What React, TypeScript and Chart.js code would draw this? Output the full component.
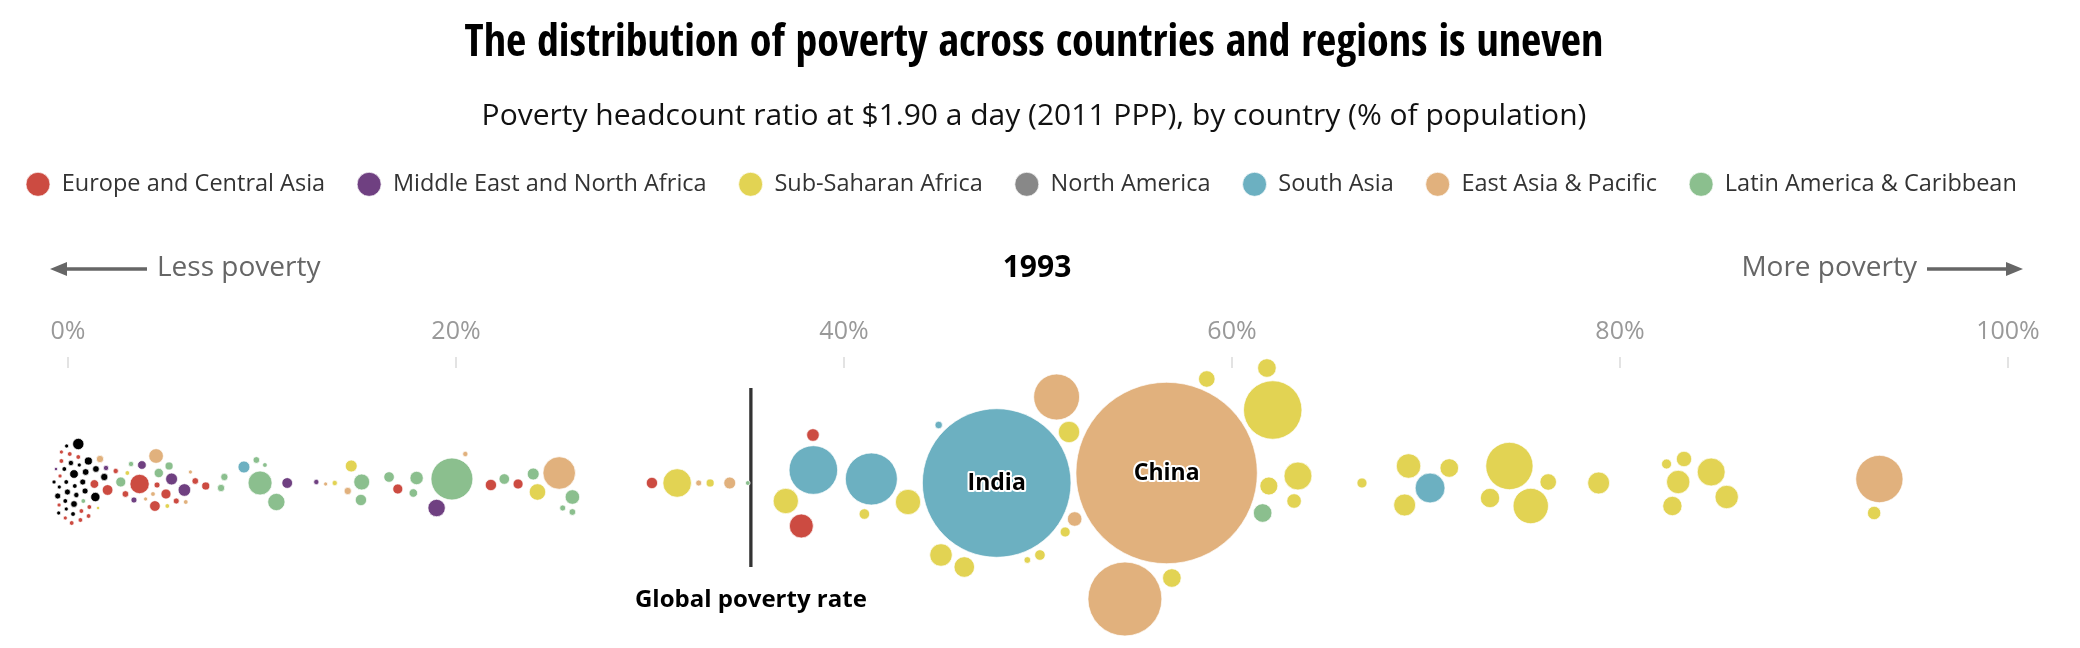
import React, { useEffect, useRef } from 'react';
import Chart from 'chart.js/auto';

// each bubble: [poverty headcount %, swarm offset, population (millions), label]
type Bubble = [number, number, number, string?];

const year = '1993';
const globalRate = 35.2;
const tickValues = [0, 20, 40, 60, 80, 100];

const europeCentralAsia: Bubble[] = [
  [-0.34, 31, 0.6], [0.09, 29, 0.8], [0.53, 26, 0.8], [-0.34, 22, 0.8], [-0.41, 7, 0.6],
  [1.36, -1, 2.7], [2.04, -7, 4.1], [-0.46, -22, 0.6], [0.69, -28, 0.8], [1.1, -24, 0.8],
  [0.64, -37, 0.8], [1.06, -33, 0.8], [-0.14, -35, 0.6], [0.19, -40, 0.8], [2.46, 12, 1.0],
  [2.96, -11, 1.6], [3.69, -1, 13.4], [4.59, -2, 1.3], [5.05, -11, 3.6], [4.48, -23, 4.1],
  [5.58, -18, 1.3], [6.56, 2, 1.6], [7.1, -3, 2.3], [17.0, -6, 3.6], [21.8, -2, 4.6],
  [23.2, -1, 3.6], [30.1, 0, 4.6], [38.4, 48, 5.7], [37.8, -43, 20.6],
];

const middleEastNorthAfrica: Bubble[] = [
  [-0.62, 14, 0.4], [1.96, 15, 1.0], [3.81, 18, 2.7], [5.34, 4, 5.1], [6.0, -7, 5.7],
  [3.4, -17, 1.3], [11.3, 0, 4.1], [12.8, 1, 1.0], [19.0, -25, 10.8],
];

const subSaharanAfrica: Bubble[] = [
  [3.06, 10, 0.8], [1.55, -25, 0.4], [5.12, -23, 0.8], [13.75, 0, 1.0], [14.6, 17, 5.1],
  [24.2, -9, 9.8], [31.4, 0, 29.3], [33.1, 0, 2.3], [37.0, -18, 23], [41.05, -31, 4.0],
  [43.3, -19, 23], [45.0, -72, 18.2], [46.2, -84, 15.2], [49.45, -77, 1.6], [50.1, -72, 4.0],
  [51.4, -49, 3.6], [51.6, 51, 16.4], [58.7, 104, 9.8], [61.8, 115, 12.4], [62.1, 73, 122.6],
  [63.4, 7, 28], [61.9, -3, 11.6], [63.2, -18, 7.6], [66.7, 0, 3.6], [56.9, -95, 12.4],
  [69.1, 17, 21.6], [68.9, -22, 17.3], [71.2, 15, 12.4], [74.3, 17, 80.2], [73.3, -15, 13.4],
  [75.4, -23, 44.8], [76.3, 1, 9.8], [78.9, 0, 17.3], [82.4, 19, 3.6], [83.3, 24, 8.5],
  [83.0, 1, 19.6], [82.7, -23, 13.4], [84.7, 11, 28], [85.5, -14, 19.6], [93.1, -30, 6.4],
];

const northAmerica: Bubble[] = [];

const southAsia: Bubble[] = [
  [9.07, 16, 5.1], [38.42, 13, 84.7], [41.41, 4, 97], [44.88, 58, 2.0],
  [47.87, 0, 792, 'India'], [70.21, -5, 32],
];

const eastAsiaPacific: Bubble[] = [
  [1.65, 24, 1.9], [4.54, 27, 7.7], [4.38, -11, 0.8], [4.0, -16, 0.6], [6.31, 11, 0.6],
  [6.07, -19, 0.8], [13.28, -1, 0.6], [14.42, -8, 1.9], [20.48, 29, 1.0], [25.32, 10, 38],
  [32.51, 0, 1.3], [34.11, 0, 5.1], [51.89, -36, 7.6], [50.96, 86, 75.6],
  [56.63, 10, 1180, 'China'], [54.48, -116, 196], [93.37, 4, 80.2],
];

const latinAmericaCaribbean: Bubble[] = [
  [0.79, -18, 0.8], [3.25, 19, 1.0], [5.21, 17, 2.3], [4.68, 10, 3.1], [2.72, 1, 3.6],
  [8.06, 6, 1.9], [7.89, -5, 1.9], [9.71, 23, 1.6], [10.15, 18, 0.8], [9.9, 0, 20.6],
  [10.74, -19, 10.7], [15.14, 1, 9.1], [15.1, -17, 4.6], [16.55, 6, 4.0], [17.97, 5, 6.4],
  [17.8, -10, 2.6], [19.79, 4, 63], [22.49, 4, 4.0], [23.98, 9, 5.1], [26.0, -14, 7.6],
  [25.5, -25, 1.3], [26.0, -29, 1.6], [35.04, 0, 0.8], [61.58, -30, 12.4],
];

// high income economies, not part of any region in the legend
const otherHighIncome: Bubble[] = [
  [0.53, 39, 4.6], [-0.07, 37, 0.6], [1.05, 22, 2.3], [0.15, 20, 1.0], [0.58, 18, 0.6],
  [1.44, 14, 1.6], [-0.19, 14, 0.8], [0.31, 9, 2.7], [0.91, 11, 1.6], [1.87, 6, 1.9],
  [-0.72, 1, 0.6], [-0.09, 1, 0.8], [0.76, 1, 1.3], [-0.45, -4, 0.6], [0.35, -3, 0.8],
  [-0.03, -9, 1.3], [0.88, -8, 1.3], [-0.53, -13, 1.3], [0.43, -12, 1.0], [1.41, -14, 3.1],
  [-0.14, -18, 0.8], [0.31, -21, 1.6], [-0.09, -26, 0.6], [-0.48, -30, 0.6], [0.26, -31, 0.8],
];

const regionNames = [
  'Europe and Central Asia', 'Middle East and North Africa', 'Sub-Saharan Africa', 'North America',
  'South Asia', 'East Asia & Pacific', 'Latin America & Caribbean',
];
const regionColors = ['#cc4b41', '#6f4081', '#e2d353', '#888888', '#6cb0c1', '#e1b17d', '#8bbf8e'];
const regionData = [
  europeCentralAsia, middleEastNorthAfrica, subSaharanAfrica, northAmerica,
  southAsia, eastAsiaPacific, latinAmericaCaribbean,
];

const sizeScale = 2.64; // px of radius per sqrt(million people)
const condensed = "'Open Sans Condensed', 'Open Sans', sans-serif";
const yearPadTop = 43.95;
// negative left padding only moves the title/legend boxes, the chart area still starts at 0
const padLeft = -6;
const padRight = 6;
const areaLeft = 0;
const areaRight = 2080 - padRight;
const zeroPx = 68;
const hundredPx = 2008;
const pxPerPct = (hundredPx - zeroPx) / 100;

const bubbleSet = (label: string, color: string, rows: Bubble[]) => ({
  type: 'bubble' as const,
  label,
  data: rows.map(([x, y, pop, name]) => ({ x, y, r: sizeScale * Math.sqrt(pop), name })),
  backgroundColor: color,
  borderColor: 'rgba(255,255,255,0.7)',
  borderWidth: 1,
  clip: false as any,
});

const annotations = {
  id: 'annotations',
  afterDatasetsDraw(chart: any) {
    const { ctx, scales } = chart;
    const x = scales.x;
    const y = scales.y;
    ctx.save();
    ctx.textAlign = 'center';
    ctx.textBaseline = 'middle';

    // names on the largest bubbles
    ctx.font = "bold 23px 'Open Sans'";
    ctx.lineJoin = 'round';
    chart.data.datasets.forEach((ds: any, di: number) => {
      const meta = chart.getDatasetMeta(di);
      ds.data.forEach((d: any, i: number) => {
        if (!d.name) return;
        const el = meta.data[i];
        ctx.strokeStyle = '#fff';
        ctx.lineWidth = 4;
        ctx.strokeText(d.name, el.x, el.y);
        ctx.fillStyle = '#000';
        ctx.fillText(d.name, el.x, el.y);
      });
    });

    ctx.font = "bold 24px 'Open Sans'";
    ctx.fillStyle = '#000';
    ctx.fillText('Global poverty rate', x.getPixelForValue(globalRate), y.getPixelForValue(-117));

    // less / more poverty arrows on the year row
    const ay = x.top + yearPadTop + 18;
    const w = chart.width;
    ctx.fillStyle = '#666';
    ctx.strokeStyle = '#666';
    ctx.lineWidth = 3.3;
    ctx.font = "28px 'Open Sans'";
    ctx.textAlign = 'left';
    ctx.fillText('Less poverty', 157, ay);
    ctx.textAlign = 'right';
    ctx.fillText('More poverty', w - 163, ay);

    ctx.beginPath();
    ctx.moveTo(147, ay + 1);
    ctx.lineTo(64, ay + 1);
    ctx.moveTo(w - 153, ay + 1);
    ctx.lineTo(w - 71, ay + 1);
    ctx.stroke();
    ctx.beginPath();
    ctx.moveTo(50, ay + 1);
    ctx.lineTo(67, ay - 6);
    ctx.lineTo(67, ay + 8);
    ctx.closePath();
    ctx.moveTo(w - 57, ay + 1);
    ctx.lineTo(w - 74, ay - 6);
    ctx.lineTo(w - 74, ay + 8);
    ctx.closePath();
    ctx.fill();
    ctx.restore();
  },
};

export default function App() {
  const canvasRef = useRef<HTMLCanvasElement | null>(null);

  useEffect(() => {
    document.body.style.margin = '0';
    const canvas = canvasRef.current;
    if (!canvas) return;
    Chart.defaults.font.family = "'Open Sans', sans-serif";

    const datasets: any[] = regionNames.map((name, i) => bubbleSet(name, regionColors[i], regionData[i]));
    datasets.push(bubbleSet('Other high income', '#000000', otherHighIncome));
    datasets.push({
      type: 'line',
      label: 'Global poverty rate',
      data: [{ x: globalRate, y: 95 }, { x: globalRate, y: -84 }],
      borderColor: '#333',
      borderWidth: 3.3,
      pointRadius: 0,
      clip: false,
    });

    const chart = new Chart(canvas, {
      type: 'bubble',
      data: { datasets },
      plugins: [annotations],
      options: {
        responsive: true,
        maintainAspectRatio: false,
        animation: false,
        events: [],
        layout: { autoPadding: false, padding: { left: padLeft, right: padRight, top: 0, bottom: 0 } },
        plugins: {
          title: {
            display: true,
            text: 'The distribution of poverty across countries and regions is uneven',
            color: '#000',
            font: { size: 44, weight: 'condensed bold' as any, family: condensed, lineHeight: 1.2 },
            padding: { top: 18, bottom: 0 },
          },
          subtitle: {
            display: true,
            text: 'Poverty headcount ratio at $1.90 a day (2011 PPP), by country (% of population)',
            color: '#111',
            font: { size: 30, weight: 'normal', lineHeight: 1.2 },
            padding: { top: 28, bottom: 5.75 },
          },
          legend: {
            position: 'top',
            align: 'start',
            labels: {
              usePointStyle: true,
              pointStyle: 'circle',
              pointStyleWidth: 24,
              boxWidth: 24,
              boxHeight: 17,
              padding: 32,
              color: '#333',
              font: { size: 23.5 },
              filter: (item: any) => regionNames.includes(item.text),
            },
          },
          tooltip: { enabled: false },
        },
        scales: {
          x: {
            type: 'linear',
            position: 'top',
            min: -(zeroPx - areaLeft) / pxPerPct,
            max: 100 + (areaRight - hundredPx) / pxPerPct,
            afterBuildTicks: (axis: any) => {
              axis.ticks = tickValues.map((v) => ({ value: v }));
            },
            ticks: {
              callback: (v: any) => v + '%',
              color: '#999',
              font: { size: 25 },
              padding: 10,
              maxRotation: 0,
              autoSkip: false,
            },
            grid: { display: true, drawOnChartArea: false, drawTicks: true, tickLength: 11, color: '#e3e3e3', lineWidth: 2 },
            border: { display: false },
            title: {
              display: true,
              text: year,
              color: '#000',
              font: { size: 30, weight: 'bold', lineHeight: 1.2 },
              padding: { top: yearPadTop, bottom: 21 },
            },
          },
          y: { type: 'linear', display: false, min: -165, max: 115 },
        },
      },
    });

    return () => chart.destroy();
  }, []);

  return (
    <div style={{ position: 'relative', width: 2080, height: 648 }}>
      <canvas ref={canvasRef} />
    </div>
  );
}
